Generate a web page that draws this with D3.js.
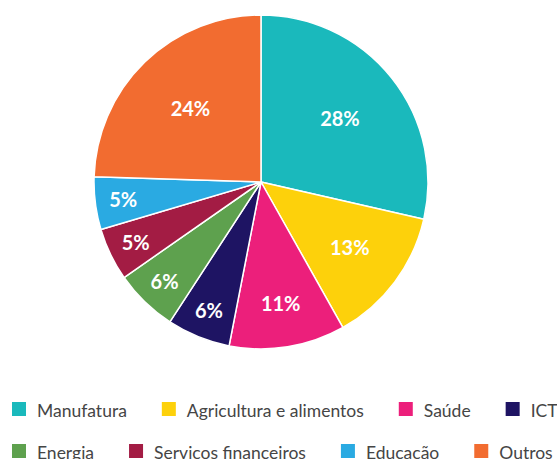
<!DOCTYPE html>
<html>
<head>
<meta charset="utf-8">
<script src="https://cdn.jsdelivr.net/npm/d3@7"></script>
<style>
  body { margin: 0; background: #fff; }
  svg { display: block; }
</style>
</head>
<body>
<svg id="chart" width="557" height="459"></svg>
<script>
// sectors, clockwise from 12 o'clock
const categories = ['Manufatura', 'Agricultura e alimentos', 'Saúde', 'ICT',
    'Energia', 'Serviços financeiros', 'Educação', 'Outros'];
const values = [28, 13, 11, 6, 6, 5, 5, 24];
const colors = ['#1ab9bc', '#fdd10b', '#ec1f7b', '#1e1463',
    '#5ea14e', '#a31c44', '#2aaae2', '#f26c30'];

const width = 557, height = 459;
const cx = 261, cy = 182, radius = 167;

let svg = d3.select('#chart');

let pie = d3.pie().sort(null).value(d => d);
let arcs = pie(values);
let total = d3.sum(values);

let arc = d3.arc().innerRadius(0).outerRadius(radius);

let g = svg.append('g')
    .attr('transform', `translate(${cx}, ${cy})`);

g.selectAll('path')
    .data(arcs)
    .enter()
    .append('path')
    .attr('d', arc)
    .attr('fill', (d, i) => colors[i])
    .attr('stroke', '#fff')
    .attr('stroke-width', 1.5)
    .attr('stroke-linejoin', 'round');

// small slices get their labels pushed out toward the rim
let labelRadius = d3.scaleLinear()
    .domain([0.06, 0.11, 0.13, 0.25])
    .range([139, 125, 111, 101])
    .clamp(true);

g.selectAll('text.pct')
    .data(arcs)
    .enter()
    .append('text')
    .attr('class', 'pct')
    .attr('transform', d => {
        let a = (d.startAngle + d.endAngle) / 2;
        let r = labelRadius(d.value / total);
        return `translate(${Math.sin(a) * r}, ${-Math.cos(a) * r})`;
    })
    .attr('text-anchor', 'middle')
    .attr('dy', '0.36em')
    .style('font-family', 'Lato, "Open Sans", sans-serif')
    .style('font-weight', 700)
    .style('font-size', '20px')
    .style('fill', '#fff')
    .text(d => d.value + '%');

// legend, two rows of four
let legend = svg.append('g').attr('class', 'legend');
let rowY = [402, 444];
let x = 12;
categories.forEach((name, i) => {
    let row = Math.floor(i / 4);
    if (i % 4 === 0) x = 12;
    let item = legend.append('g')
        .attr('transform', `translate(${x}, ${rowY[row]})`);
    item.append('rect')
        .attr('width', 14)
        .attr('height', 14)
        .attr('fill', colors[i]);
    let t = item.append('text')
        .attr('x', 25)
        .attr('y', 14.5)
        .style('font-family', 'Lato, "Open Sans", sans-serif')
        .style('font-size', '17.5px')
        .style('fill', '#454545')
        .text(name);
    x += 25 + t.node().getComputedTextLength() + 35;
});
</script>
</body>
</html>
